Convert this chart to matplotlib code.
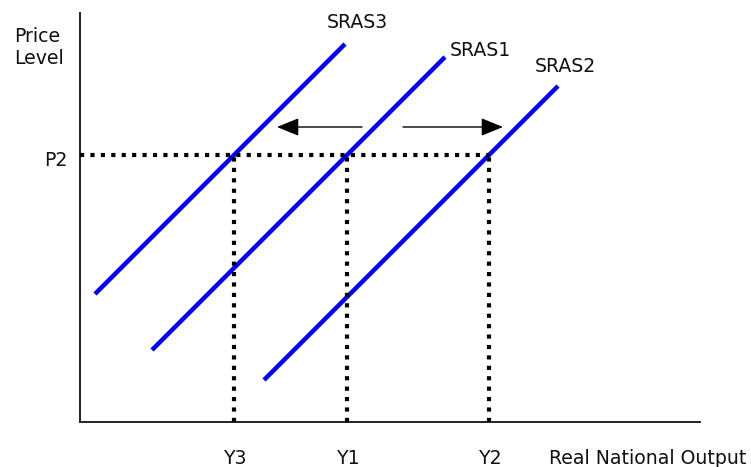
import matplotlib.pyplot as plt
from matplotlib.patches import FancyArrowPatch

# output levels on the x axis and the price level
output_names = ["Y3", "Y1", "Y2"]
output_levels = [154, 267, 409]
price_name = "P2"
price_level = 267

# the three short run aggregate supply curves (end points)
curve_names = ["SRAS3", "SRAS1", "SRAS2"]
curve_x = [[15, 265], [72, 365], [184, 478]]
curve_y = [[128, 378], [72, 365], [42, 336]]

# shift arrows: (tail x, tip x) at one height
arrow_height = 295
arrow_runs = [[282, 197], [323, 423]]

x_max = 620
y_max = 409

def main():
	fig = plt.figure(figsize=(7.51, 4.67), dpi=100)
	ax = fig.add_axes([80 / 751, 45 / 467, 620 / 751, 409 / 467])
	ax.set_xlim(0, x_max)
	ax.set_ylim(0, y_max)
	for side in ["top", "right"]:
		ax.spines[side].set_visible(False)
	for side in ["left", "bottom"]:
		ax.spines[side].set_color("#222222")
		ax.spines[side].set_linewidth(1.4)
	ax.set_xticks([])
	ax.set_yticks([])

	dots = dict(color="black", lw=3.0, linestyle=(0, (1, 1.5)), dash_capstyle="butt", zorder=3)
	ax.plot([0, output_levels[2]], [price_level, price_level], **dots)
	for x in output_levels:
		ax.plot([x, x], [0, price_level], **dots)

	for xs, ys in zip(curve_x, curve_y):
		ax.plot(xs, ys, color="#0000FF", lw=3.2, solid_capstyle="butt", zorder=2)

	for tail, tip in arrow_runs:
		arr = FancyArrowPatch((tail, arrow_height), (tip, arrow_height),
			arrowstyle="-|>,head_length=1.35,head_width=0.55", mutation_scale=10,
			color="black", lw=1.0, shrinkA=0, shrinkB=0)
		ax.add_patch(arr)

	txt = dict(fontsize=13.6, color="#111111", family="DejaVu Sans", clip_on=False)
	ax.text(277, 400, curve_names[0], ha="center", va="center", **txt)
	ax.text(370, 372, curve_names[1], ha="left", va="center", **txt)
	ax.text(455, 356, curve_names[2], ha="left", va="center", **txt)

	ax.text(-66, 386, "Price", ha="left", va="center", **txt)
	ax.text(-66, 363, "Level", ha="left", va="center", **txt)
	ax.text(-13, 261, price_name, ha="right", va="center", **txt)

	for name, x in zip(output_names, output_levels):
		ax.text(x + 2, -36, name, ha="center", va="center", **txt)
	ax.text(469, -36, "Real National Output", ha="left", va="center", **txt)

	fig.savefig("out.png", dpi=100)

if __name__ == '__main__':
	main()
